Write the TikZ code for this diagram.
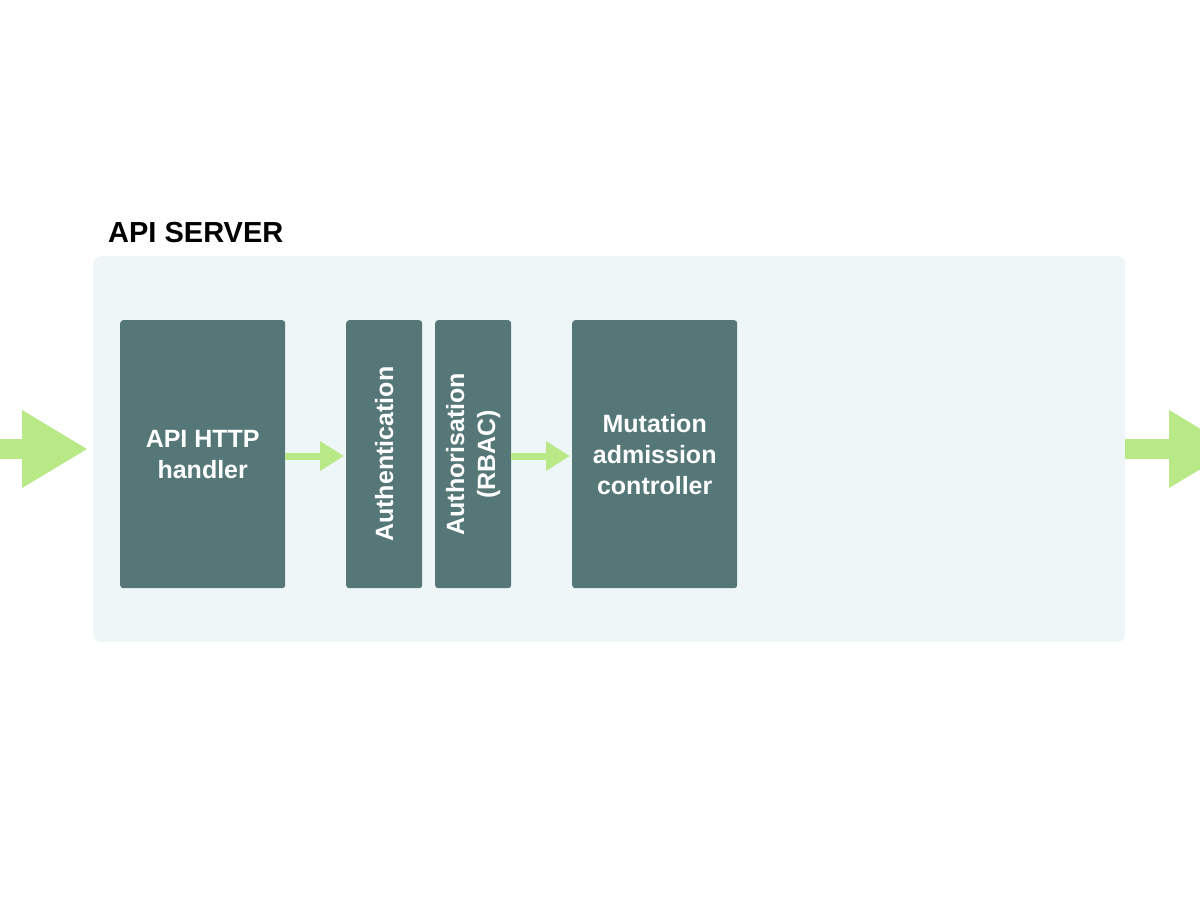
\documentclass[tikz,border=0pt]{standalone}
\usepackage{fontspec}
\setmainfont{Liberation Sans}
\usetikzlibrary{arrows.meta}
\definecolor{panel}{HTML}{EEF6F8}
\definecolor{boxc}{HTML}{557778}
\definecolor{flow}{HTML}{B8E986}
\tikzset{
  stage/.style={fill=boxc, rounded corners=3pt, draw=none, inner sep=0pt, anchor=north west},
  stagetext/.style={text=white, font=\fontsize{25}{31}\selectfont\bfseries, align=center},
  smallflow/.style={draw=flow, line width=7pt, -{Triangle[length=24pt,width=28pt]}, shorten >=2pt},
  bigflow/.style={draw=flow, line width=20pt, -{Triangle[length=66pt,width=73pt]}},
}
\begin{document}
\begin{tikzpicture}[x=1pt,y=-1pt]
\useasboundingbox (0,0) rectangle (1200,900);
\clip (0,0) rectangle (1200,900);
\node[fill=panel, rounded corners=8pt, inner sep=0pt, anchor=north west, minimum width=1032pt, minimum height=386pt] (server) at (93,256) {};
\node[anchor=base west, font=\fontsize{29}{34}\selectfont\bfseries, inner sep=0pt] (title) at (108,242) {API SERVER};
\node[stage, minimum width=165pt, minimum height=268pt] (http) at (120,320) {};
\node[stage, minimum width=76pt, minimum height=268pt] (authn) at (346,320) {};
\node[stage, minimum width=76pt, minimum height=268pt] (authz) at (435,320) {};
\node[stage, minimum width=165pt, minimum height=268pt] (mut) at (572,320) {};
\node[stagetext] (httpt) at (http.center) {API HTTP\\handler};
\node[stagetext, rotate=90] (authnt) at (authn.center) {Authentication};
\node[stagetext, rotate=90] (authzt) at (authz.center) {Authorisation\\(RBAC)};
\node[stagetext] (mutt) at (mut.center) {Mutation\\admission\\controller};
\coordinate (in) at (0,449);
\coordinate (out) at (1235,449);
\draw[bigflow, shorten >=5pt] (in) -- (in -| server.west);
\draw[bigflow] (server.east |- out) -- (out);
\draw[smallflow] (http.east |- 0,456) -- (authn.west |- 0,456);
\draw[smallflow] (authz.east |- 0,456) -- (mut.west |- 0,456);
\end{tikzpicture}
\end{document}
